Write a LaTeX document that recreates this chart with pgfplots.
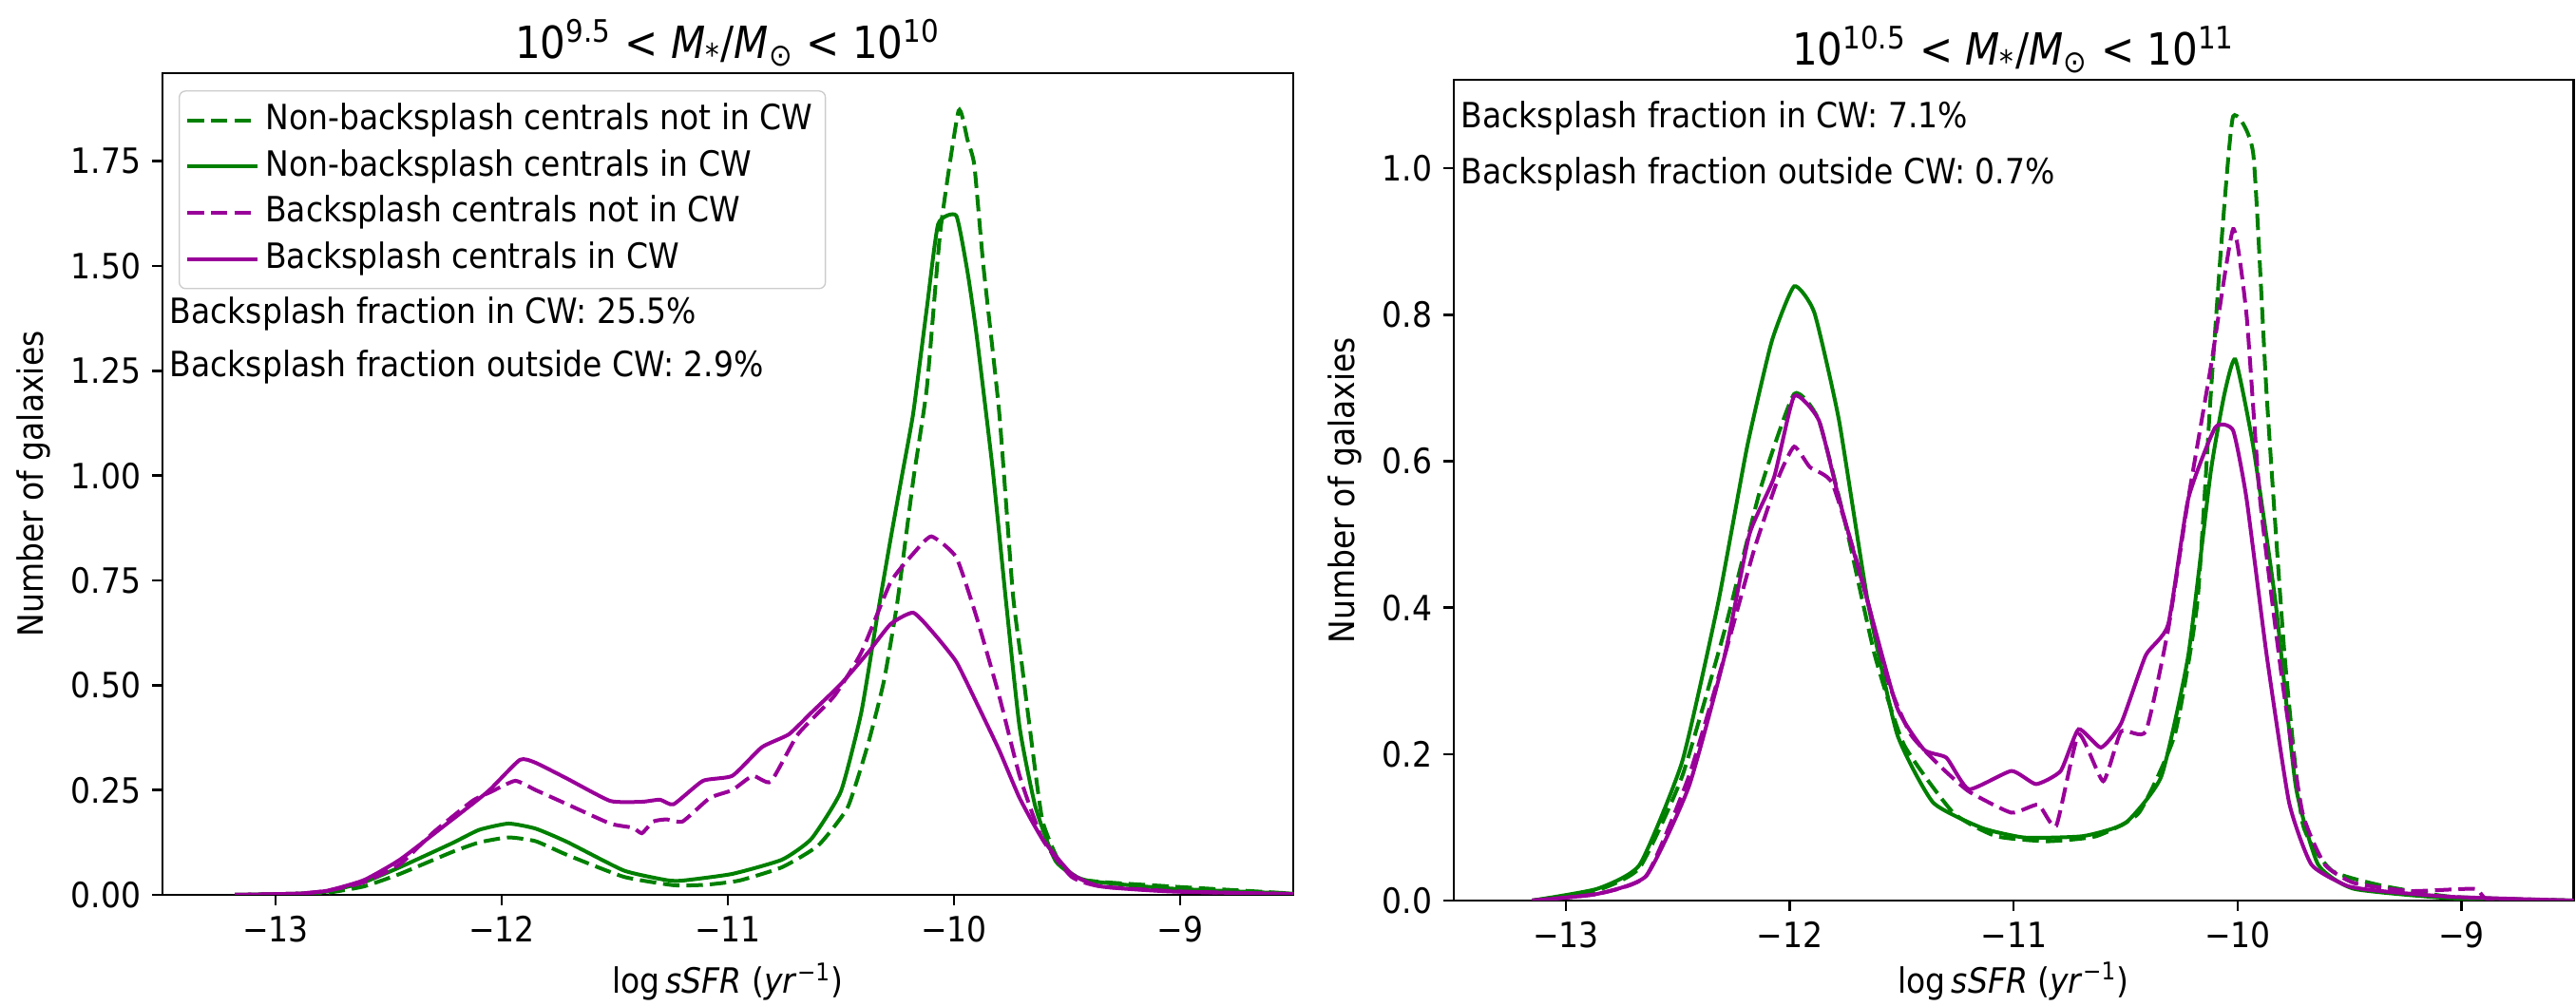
\documentclass[border=0pt]{standalone}
\usepackage{fontspec}
\setmainfont{DejaVu Sans}[FakeStretch=0.9]
\usepackage{pgfplots}
\pgfplotsset{compat=1.18}
\definecolor{mplgreen}{HTML}{008000}
\definecolor{mplpurple}{HTML}{990099}

\newcommand{\tenpt}{\fontsize{11}{13}\selectfont}
\pgfplotsset{
  panel/.style={
    scale only axis,
    xmin=-13.5, xmax=-8.5, ymin=0,
    axis line style={line width=0.75pt},
    tick align=outside, tick pos=left,
    major tick length=3.3pt,
    every tick/.style={line width=0.75pt, black},
    xtick={-13,-12,-11,-10,-9},
    xticklabels={−13,−12,−11,−10,−9},
    tick label style={font=\tenpt},
    label style={font=\tenpt},
    title style={font=\fontsize{14}{16}\selectfont, at={(0.5,1)}, anchor=base, yshift=-1.5pt},
    xlabel={log\,\textit{sSFR} (\textit{yr}\textsuperscript{−1})},
    ylabel={Number of galaxies},
    every axis plot/.append style={smooth, tension=0.3},
  },
  nbout/.style={mplgreen, line width=1.2pt, dash pattern=on 5.2pt off 2.2pt},
  nbin/.style={mplgreen, line width=1.2pt},
  bsout/.style={mplpurple, line width=1.2pt, dash pattern=on 5.2pt off 2.2pt},
  bsin/.style={mplpurple, line width=1.2pt},
}

\begin{document}
\begin{tikzpicture}
\useasboundingbox (0,0) rectangle (813.3pt,317.7pt);

% left panel
\begin{axis}[
  panel,
  at={(51.3pt,35.1pt)}, anchor=south west,
  width=357pt, height=259.5pt,
  ymax=1.96,
  ytick={0,0.25,0.5,0.75,1,1.25,1.5,1.75},
  yticklabels={0.00,0.25,0.50,0.75,1.00,1.25,1.50,1.75},
  title={10\textsuperscript{9.5} < \textit{M}\textsubscript{*}/\textit{M}\textsubscript{⊙} < 10\textsuperscript{10}},
  xlabel style={at={(axis description cs:0.5,-0.1195)}, anchor=base},
  ylabel style={at={(axis description cs:-0.1143,0.5)}, anchor=center},
  legend style={at={(0.0143,0.979)}, anchor=north west, draw=black!20,
    rounded corners=2pt, fill=white, fill opacity=0.8, text opacity=1,
    font=\tenpt, inner xsep=2pt, inner ysep=2pt,
    nodes={inner ysep=1.7pt, text height=8.5pt, text depth=2.7pt}},
  legend cell align=left,
  legend image code/.code={\draw[#1] (0pt,0pt) -- (22pt,0pt);},
]
\addplot[nbout] coordinates {
(-13.18,0) (-12.9,0.002) (-12.77,0.005) (-12.61,0.02) (-12.45,0.05) (-12.22,0.102)
(-12.1,0.125) (-11.97,0.137) (-11.85,0.128) (-11.71,0.095) (-11.46,0.043) (-11.24,0.023)
(-11.1,0.024) (-10.95,0.034) (-10.76,0.066) (-10.6,0.118) (-10.47,0.209) (-10.38,0.36)
(-10.31,0.51) (-10.25,0.7) (-10.18,0.99) (-10.12,1.21) (-10.06,1.585) (-9.98,1.87)
(-9.94,1.8) (-9.91,1.74) (-9.87,1.5) (-9.80,1.15) (-9.74,0.72) (-9.70,0.55) (-9.67,0.42)
(-9.61,0.18) (-9.53,0.075) (-9.42,0.035) (-9.04,0.02) (-8.72,0.01) (-8.5,0.003)
};
\addplot[nbin] coordinates {
(-13.18,0) (-12.9,0.003) (-12.77,0.008) (-12.61,0.03) (-12.45,0.066) (-12.22,0.123)
(-12.1,0.155) (-11.97,0.17) (-11.85,0.158) (-11.71,0.126) (-11.46,0.058) (-11.27,0.035)
(-11.2,0.034) (-10.98,0.05) (-10.76,0.084) (-10.63,0.134) (-10.50,0.247) (-10.41,0.435)
(-10.34,0.662) (-10.28,0.85) (-10.23,1.0) (-10.18,1.15) (-10.12,1.4) (-10.07,1.6)
(-9.99,1.62) (-9.94,1.485) (-9.90,1.335) (-9.83,1.02) (-9.77,0.7) (-9.71,0.4)
(-9.64,0.21) (-9.55,0.08) (-9.42,0.035) (-9.04,0.015) (-8.5,0.003)
};
\addplot[bsout] coordinates {
(-13.18,0) (-12.9,0.003) (-12.77,0.01) (-12.61,0.03) (-12.45,0.073) (-12.3,0.15)
(-12.13,0.224) (-12.05,0.245) (-11.94,0.272) (-11.85,0.25) (-11.71,0.216) (-11.52,0.17)
(-11.42,0.16) (-11.38,0.147) (-11.33,0.175) (-11.27,0.18) (-11.2,0.175) (-11.08,0.231)
(-10.98,0.25) (-10.89,0.284) (-10.81,0.27) (-10.69,0.383) (-10.53,0.474) (-10.41,0.578)
(-10.28,0.746) (-10.18,0.814) (-10.10,0.855) (-9.99,0.805) (-9.90,0.662) (-9.80,0.474)
(-9.71,0.284) (-9.61,0.134) (-9.48,0.043) (-9.35,0.02) (-9.0,0.008) (-8.5,0.002)
};
\addplot[bsin] coordinates {
(-13.18,0) (-12.9,0.003) (-12.77,0.01) (-12.61,0.035) (-12.45,0.084) (-12.22,0.179)
(-12.06,0.247) (-11.92,0.322) (-11.85,0.315) (-11.71,0.277) (-11.52,0.224) (-11.38,0.222)
(-11.30,0.227) (-11.24,0.216) (-11.11,0.272) (-10.98,0.284) (-10.85,0.352) (-10.73,0.383)
(-10.63,0.435) (-10.50,0.503) (-10.38,0.578) (-10.28,0.646) (-10.18,0.673) (-10.09,0.624)
(-9.99,0.556) (-9.90,0.458) (-9.80,0.345) (-9.71,0.231) (-9.61,0.134) (-9.48,0.05)
(-9.35,0.02) (-9.04,0.008) (-8.5,0.002)
};
\legend{Non-backsplash centrals not in CW, Non-backsplash centrals in CW,
  Backsplash centrals not in CW, Backsplash centrals in CW}
\node[anchor=west, font=\tenpt, inner sep=0pt] at (axis cs:-13.47,1.385) {Backsplash fraction in CW: 25.5\%};
\node[anchor=west, font=\tenpt, inner sep=0pt] at (axis cs:-13.47,1.26) {Backsplash fraction outside CW: 2.9\%};
\end{axis}

% right panel
\begin{axis}[
  panel,
  at={(459pt,33.3pt)}, anchor=south west,
  width=353.5pt, height=259.2pt,
  ymax=1.121,
  ytick={0,0.2,0.4,0.6,0.8,1.0},
  yticklabels={0.0,0.2,0.4,0.6,0.8,1.0},
  title={10\textsuperscript{10.5} < \textit{M}\textsubscript{*}/\textit{M}\textsubscript{⊙} < 10\textsuperscript{11}},
  xlabel style={at={(axis description cs:0.5,-0.1123)}, anchor=base},
  ylabel style={at={(axis description cs:-0.0969,0.5)}, anchor=center},
]
\addplot[nbout] coordinates {
(-13.15,0) (-12.86,0.014) (-12.67,0.045) (-12.48,0.17) (-12.29,0.37) (-12.13,0.563)
(-11.98,0.692) (-11.87,0.656) (-11.75,0.513) (-11.62,0.335) (-11.49,0.213) (-11.27,0.12)
(-11.08,0.088) (-10.85,0.081) (-10.63,0.088) (-10.44,0.12) (-10.28,0.227) (-10.18,0.406)
(-10.12,0.69) (-10.07,0.907) (-10.02,1.071) (-9.93,1.02) (-9.87,0.69) (-9.79,0.335)
(-9.71,0.106) (-9.58,0.041) (-9.35,0.02) (-9.04,0.005) (-8.5,0)
};
\addplot[nbin] coordinates {
(-13.15,0) (-12.86,0.016) (-12.67,0.049) (-12.48,0.19) (-12.32,0.406) (-12.19,0.62)
(-12.08,0.764) (-11.98,0.839) (-11.89,0.803) (-11.78,0.656) (-11.65,0.406) (-11.52,0.227)
(-11.36,0.134) (-11.14,0.099) (-10.95,0.086) (-10.69,0.088) (-10.50,0.106) (-10.34,0.17)
(-10.22,0.335) (-10.12,0.585) (-10.06,0.69) (-10.01,0.739) (-9.93,0.62) (-9.83,0.406)
(-9.74,0.156) (-9.64,0.049) (-9.48,0.016) (-9.04,0.003) (-8.5,0)
};
\addplot[bsout] coordinates {
(-13.15,0) (-12.86,0.009) (-12.64,0.034) (-12.45,0.17) (-12.29,0.335) (-12.16,0.478)
(-12.05,0.578) (-11.98,0.62) (-11.91,0.592) (-11.81,0.57) (-11.68,0.442) (-11.56,0.299)
(-11.46,0.227) (-11.33,0.184) (-11.20,0.149) (-11.01,0.12) (-10.89,0.131) (-10.81,0.102)
(-10.71,0.227) (-10.60,0.163) (-10.52,0.231) (-10.41,0.231) (-10.31,0.37) (-10.22,0.549)
(-10.12,0.728) (-10.02,0.917) (-9.96,0.8) (-9.90,0.549) (-9.80,0.299) (-9.71,0.12)
(-9.61,0.049) (-9.48,0.024) (-9.23,0.013) (-8.94,0.016) (-8.88,0.002) (-8.5,0)
};
\addplot[bsin] coordinates {
(-13.15,0) (-12.86,0.009) (-12.64,0.034) (-12.45,0.156) (-12.29,0.335) (-12.18,0.5)
(-12.07,0.578) (-11.98,0.689) (-11.87,0.656) (-11.78,0.549) (-11.65,0.406) (-11.52,0.263)
(-11.40,0.206) (-11.30,0.195) (-11.20,0.152) (-11.01,0.177) (-10.90,0.159) (-10.79,0.177)
(-10.71,0.234) (-10.61,0.209) (-10.52,0.242) (-10.41,0.335) (-10.31,0.377) (-10.22,0.549)
(-10.10,0.646) (-10.02,0.642) (-9.96,0.549) (-9.87,0.335) (-9.77,0.134) (-9.67,0.049)
(-9.51,0.02) (-9.36,0.013) (-9.04,0.005) (-8.5,0)
};
\node[anchor=west, font=\tenpt, inner sep=0pt] at (axis cs:-13.47,1.069) {Backsplash fraction in CW: 7.1\%};
\node[anchor=west, font=\tenpt, inner sep=0pt] at (axis cs:-13.47,0.992) {Backsplash fraction outside CW: 0.7\%};
\end{axis}
\end{tikzpicture}
\end{document}
